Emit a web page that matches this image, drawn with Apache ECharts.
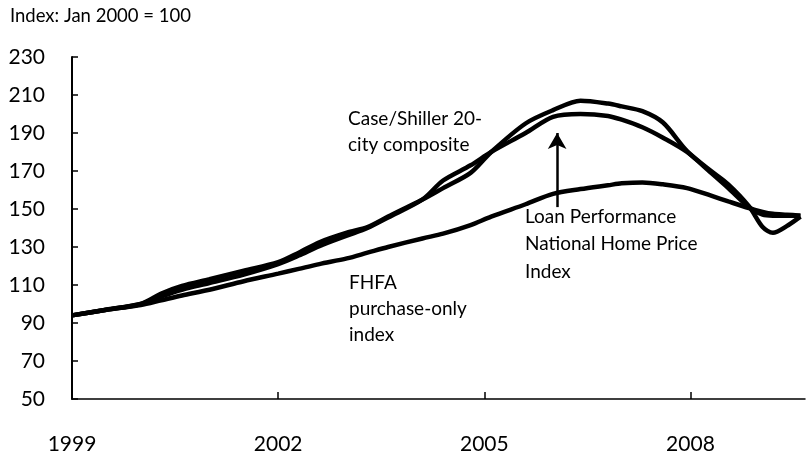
<!DOCTYPE html>
<html>
<head>
<meta charset="utf-8">
<script src="https://cdn.jsdelivr.net/npm/echarts@6/dist/echarts.min.js"></script>
<style>
  html, body { margin: 0; padding: 0; background: #fff; }
  #chart { width: 809px; height: 456px; }
</style>
</head>
<body>
<div id="chart"></div>
<script>
// readings taken off the scanned chart, index Jan 2000 = 100
const years = [1999.0, 1999.5, 2000.0, 2000.3, 2000.6, 2001.0, 2001.5, 2002.0, 2002.3, 2002.6,
  2003.0, 2003.3, 2003.6, 2004.1, 2004.4, 2004.8, 2005.1, 2005.6, 2006.0, 2006.4,
  2006.8, 2007.0, 2007.3, 2007.6, 2007.95, 2008.3, 2008.55, 2008.85, 2009.05, 2009.2,
  2009.4, 2009.6];

const fhfa = [94, 97, 99.5, 102, 104.5, 107.5, 112, 116, 118.5, 121,
  124, 127, 130, 134.5, 137, 141.5, 146, 152.5, 158, 160.5,
  162.5, 163.5, 164, 163, 161, 157, 154, 150.5, 148.5, 147.5,
  147, 146.5];

const caseShiller = [94, 97, 100, 105.5, 109.5, 113, 117.5, 122, 127, 132.5,
  137.5, 140.5, 146, 155, 161, 169, 180, 195, 202, 207,
  205.5, 204, 201.5, 195.5, 180.5, 170, 163, 151.5, 140.5, 137.5,
  141, 146];

const loanPerf = [94, 97, 100, 104, 107.5, 111, 115.5, 121, 125.5, 130.5,
  136, 140, 145.5, 155, 165, 173, 180, 190, 198.5, 200,
  199, 197, 193, 187.5, 180, 169, 161, 151, 147, 146.5,
  146.5, 146.5];

const yearLabels = [1999, 2002, 2005, 2008];
const arrowYear = 2006.06;
const arrowFrom = 151;
const arrowTo = 190;

const FONT = 'Lato';
const toMonths = (y) => (y - 1999) * 12;
const pairs = (values) => years.map((y, i) => [toMonths(y), values[i]]);

function lineSeries(name, values, extra = {}) {
  return Object.assign({
    name,
    type: 'line',
    data: pairs(values),
    smooth: 0.3,
    showSymbol: false,
    silent: true,
    lineStyle: { color: '#000', width: 4.5 },
  }, extra);
}

const chart = echarts.init(document.getElementById('chart'), null, { renderer: 'canvas' });

chart.setOption({
  animation: false,
  backgroundColor: '#fff',
  grid: { left: 72, right: 4, top: 57, bottom: 57 },
  xAxis: {
    type: 'value',
    min: 0,
    max: 128,
    interval: 36,
    splitLine: { show: false },
    axisLine: { lineStyle: { color: '#000', width: 1.5 } },
    axisTick: {
      inside: true,
      length: 7,
      customValues: yearLabels.slice(1).map(toMonths),
      lineStyle: { color: '#000', width: 1.5 },
    },
    axisLabel: {
      customValues: yearLabels.map(toMonths),
      formatter: (v) => String(Math.round(1999 + v / 12)),
      margin: 35,
      fontSize: 21,
      fontFamily: FONT,
      color: '#000',
    },
  },
  yAxis: {
    type: 'value',
    min: 50,
    max: 230,
    interval: 20,
    splitLine: { show: false },
    axisLine: { show: true, lineStyle: { color: '#000', width: 2 } },
    axisTick: { show: true, inside: true, length: 6, lineStyle: { color: '#000', width: 1.5 } },
    axisLabel: { margin: 27, fontSize: 21, fontFamily: FONT, color: '#000' },
  },
  series: [
    lineSeries('FHFA purchase-only index', fhfa),
    lineSeries('Case/Shiller 20-city composite', caseShiller),
    lineSeries('Loan Performance National Home Price Index', loanPerf, {
      markLine: {
        silent: true,
        symbol: ['none', 'arrow'],
        symbolSize: [14, 16],
        label: { show: false },
        lineStyle: { color: '#000', width: 2.5, type: 'solid' },
        data: [[
          { coord: [toMonths(arrowYear), arrowFrom] },
          { coord: [toMonths(arrowYear), arrowTo] },
        ]],
      },
    }),
  ],
  graphic: [
    {
      type: 'text', left: 10, top: 7,
      style: { text: 'Index: Jan 2000 = 100', fontSize: 18.5, fontFamily: FONT, fill: '#000' },
    },
    {
      type: 'text', left: 348, top: 106,
      style: { text: 'Case/Shiller 20-\ncity composite', fontSize: 19, lineHeight: 26, fontFamily: FONT, fill: '#000' },
    },
    {
      type: 'text', left: 349, top: 270,
      style: { text: 'FHFA\npurchase-only\nindex', fontSize: 19, lineHeight: 26, fontFamily: FONT, fill: '#000' },
    },
    {
      type: 'text', left: 525, top: 203,
      style: { text: 'Loan Performance\nNational Home Price\nIndex', fontSize: 19, lineHeight: 27.5, fontFamily: FONT, fill: '#000' },
    },
  ],
});
</script>
</body>
</html>
